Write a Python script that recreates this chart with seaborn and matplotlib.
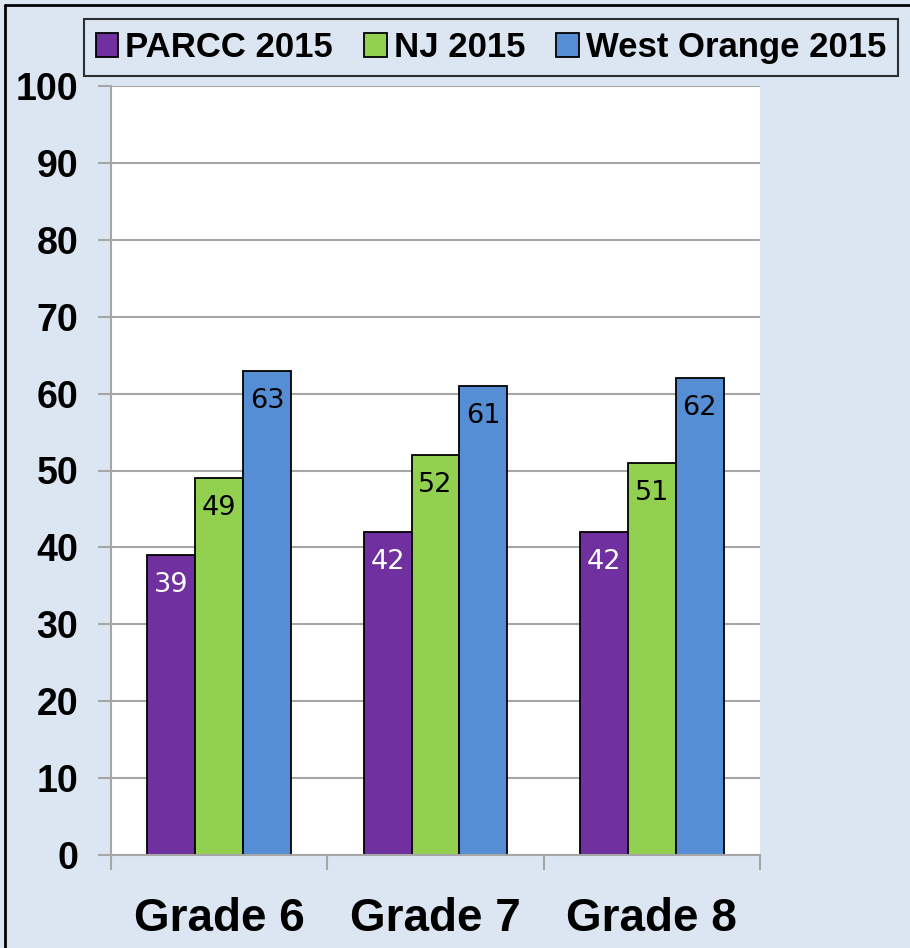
import pandas as pd
import matplotlib
matplotlib.use("Agg")
import matplotlib.pyplot as plt
import seaborn as sns
from matplotlib.lines import Line2D

# -------------------------------------------------
# Data
# -------------------------------------------------
grades = ["Grade 6", "Grade 7", "Grade 8"]
series = ["PARCC 2015", "NJ 2015", "West Orange 2015"]
parcc = [39, 42, 42]
nj = [49, 52, 51]
west_orange = [63, 61, 62]
colors = ["#7030A0", "#92D050", "#558ED5"]
label_colors = ["white", "black", "black"]

df = pd.DataFrame({
    "grade": grades * 3,
    "series": [s for s in series for _ in grades],
    "value": parcc + nj + west_orange,
})

bg = "#DCE6F2"
grid_c = "#A6A6A6"

sns.set_theme(style="white")
plt.rcParams["font.family"] = ["Liberation Sans", "DejaVu Sans"]
plt.rcParams["text.color"] = "black"
plt.rcParams["xtick.labelcolor"] = "black"
plt.rcParams["ytick.labelcolor"] = "black"

fig = plt.figure(figsize=(9.1, 9.48), dpi=100, facecolor=bg)
ax = fig.add_axes([111 / 910, 1 - 855 / 948, (760 - 111) / 910, (855 - 86) / 948])
ax.set_facecolor("white")

sns.barplot(
    data=df, x="grade", y="value", hue="series",
    palette=colors, width=0.664, edgecolor="black", linewidth=1.3,
    saturation=1, ax=ax,
)

ax.set_ylim(0, 100)
ax.set_yticks(range(0, 101, 10))
ax.set_xlim(-0.5, 2.5)
ax.set_xlabel("")
ax.set_ylabel("")

# grid and spines
ax.yaxis.grid(True, color=grid_c, linewidth=1.5)
ax.set_axisbelow(True)
for side in ["top", "right"]:
    ax.spines[side].set_visible(False)
for side in ["left", "bottom"]:
    ax.spines[side].set_color(grid_c)
    ax.spines[side].set_linewidth(1.5)

ax.tick_params(axis="y", direction="out", length=9.5, width=1.5, color=grid_c,
               pad=14, labelsize=27, left=True, labelcolor="black")
for t in ax.get_yticklabels():
    t.set_fontweight("bold")

# x ticks at category boundaries, labels at centres
ax.set_xticks([-0.5, 0.5, 1.5, 2.5], minor=True)
ax.tick_params(axis="x", which="minor", direction="out", length=11, width=1.5,
               color=grid_c, bottom=True)
ax.tick_params(axis="x", which="major", length=0, pad=30, labelsize=33,
               labelcolor="black")
for t in ax.get_xticklabels():
    t.set_fontweight("bold")

# value labels inside top of bars
for cont, lc in zip(ax.containers, label_colors):
    for bar in cont:
        h = bar.get_height()
        ax.text(bar.get_x() + bar.get_width() / 2, h - 3.9, f"{h:.0f}",
                ha="center", va="center", color=lc, fontsize=19.5,
                family="DejaVu Sans")

# legend across the top
handles, labels = ax.get_legend_handles_labels()
ax.get_legend().remove()
leg = fig.legend(
    handles, labels, ncol=3, loc="upper center",
    bbox_to_anchor=(491 / 910, 1 - 19 / 948),
    frameon=True, facecolor=bg, edgecolor="black", fancybox=False,
    prop={"weight": "bold", "size": 25},
    handlelength=0.65, handleheight=0.65, handletextpad=0.2,
    columnspacing=0.9, borderpad=0.35, borderaxespad=0,
)
leg.get_frame().set_linewidth(1.5)
for txt in leg.get_texts():
    txt.set_color("black")

# outer frame lines (left and top)
fig.add_artist(Line2D([5 / 910, 5 / 910], [0, 1 - 5 / 948], color="black",
                      linewidth=2, transform=fig.transFigure))
fig.add_artist(Line2D([5 / 910, 1], [1 - 5 / 948, 1 - 5 / 948], color="black",
                      linewidth=2, transform=fig.transFigure))

fig.savefig("out.png", dpi=100, facecolor=bg)
